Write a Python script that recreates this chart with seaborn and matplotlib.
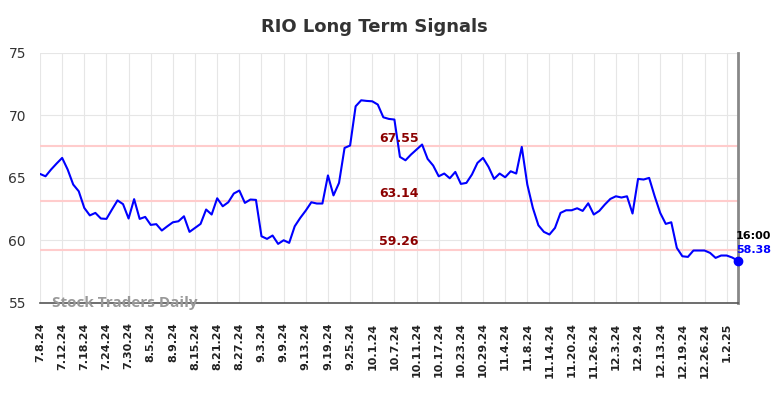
import matplotlib
matplotlib.use("Agg")
import matplotlib.pyplot as plt
import seaborn as sns
import numpy as np
import pandas as pd

# daily closes, 7.8.24 .. 1.6.25
prices = [
    65.32, 65.13, 65.67, 66.15, 66.6, 65.67, 64.47, 63.93, 62.6, 62.0,
    62.2, 61.75, 61.72, 62.47, 63.2, 62.9, 61.75, 63.3, 61.72, 61.88,
    61.24, 61.3, 60.79, 61.13, 61.45, 61.53, 61.93, 60.68, 61.0, 61.32,
    62.47, 62.07, 63.37, 62.73, 63.05, 63.75, 63.99, 63.0, 63.27, 63.24,
    60.33, 60.12, 60.39, 59.72, 60.01, 59.8, 61.13, 61.8, 62.39, 63.05,
    62.95, 62.95, 65.2, 63.6, 64.6, 67.4, 67.59, 70.73, 71.21, 71.16,
    71.13, 70.87, 69.85, 69.72, 69.67, 66.68, 66.41, 66.87, 67.27, 67.67,
    66.52, 65.99, 65.13, 65.35, 64.97, 65.48, 64.52, 64.6, 65.27, 66.2,
    66.6, 65.88, 64.92, 65.35, 65.05, 65.53, 65.35, 67.48, 64.47, 62.6,
    61.21, 60.68, 60.47, 61.0, 62.2, 62.41, 62.41, 62.57, 62.36, 62.97,
    62.07, 62.36, 62.87, 63.32, 63.53, 63.43, 63.53, 62.15, 64.92, 64.87,
    65.0, 63.53, 62.2, 61.32, 61.45, 59.4, 58.73, 58.68, 59.19, 59.19,
    59.19, 59.0, 58.6, 58.79, 58.79, 58.63, 58.38,
]
tick_labels = [
    "7.8.24", "7.12.24", "7.18.24", "7.24.24", "7.30.24", "8.5.24", "8.9.24",
    "8.15.24", "8.21.24", "8.27.24", "9.3.24", "9.9.24", "9.13.24", "9.19.24",
    "9.25.24", "10.1.24", "10.7.24", "10.11.24", "10.17.24", "10.23.24",
    "10.29.24", "11.4.24", "11.8.24", "11.14.24", "11.20.24", "11.26.24",
    "12.3.24", "12.9.24", "12.13.24", "12.19.24", "12.26.24", "1.2.25",
]
signal_levels = [67.55, 63.14, 59.26]
last_time = "16:00"

df = pd.DataFrame({"day": np.arange(len(prices)), "price": prices})

sns.set_style("whitegrid", {"grid.color": "#e6e6e6"})
plt.rcParams["font.family"] = ["DejaVu Sans"]

fig = plt.figure(figsize=(7.84, 3.98), dpi=100)
ax = fig.add_axes([0.051, 0.239, 0.890, 0.628])

for level in signal_levels:
    ax.axhline(level, color="#ffcccc", lw=1.5, zorder=1)
    ax.text(64.8, level + 0.1, f"{level:.2f}", color="#8b0000", fontsize=9,
            fontweight="bold", ha="center", va="bottom", zorder=3)

sns.lineplot(data=df, x="day", y="price", color="#0000ff", lw=1.5, ax=ax, zorder=2)
last = df.iloc[-1]
ax.scatter([last["day"]], [last["price"]], s=36, color="#0000ff", zorder=4, clip_on=False)
ax.text(last["day"] - 0.3, last["price"] + 1.6, last_time, fontsize=8, fontweight="bold",
        color="black", ha="left", va="bottom")
ax.text(last["day"] - 0.3, last["price"] + 0.45, f"{last['price']:.2f}", fontsize=8,
        fontweight="bold", color="#0000ff", ha="left", va="bottom")

ax.set_xlim(0, len(prices) - 1)
ax.set_ylim(55, 75)
ax.set_yticks([55, 60, 65, 70, 75])
ax.set_xticks(np.arange(0, len(prices), 4)[:len(tick_labels)])
ax.set_xticklabels(tick_labels, rotation=90, fontsize=8, fontweight="bold",
                   va="top", ha="center")
ax.tick_params(axis="x", pad=14, length=0, colors="#222222")
ax.tick_params(axis="y", labelsize=10, length=0, colors="#333333", pad=10)
ax.set_xlabel("")
ax.set_ylabel("")

for side in ["top", "left"]:
    ax.spines[side].set_visible(False)
ax.spines["bottom"].set_color("#555555")
ax.spines["bottom"].set_linewidth(1.2)
ax.spines["right"].set_color("#888888")
ax.spines["right"].set_linewidth(2)

ax.text(0.017, 0.0, "Stock Traders Daily", transform=ax.transAxes, fontsize=11,
        fontweight="bold", color="#999999", ha="left", va="center", family="Open Sans")

fig.suptitle("RIO Long Term Signals", fontsize=13, fontweight="bold", color="#333333",
             x=0.478, y=0.955)

fig.savefig("out.png", dpi=100)
